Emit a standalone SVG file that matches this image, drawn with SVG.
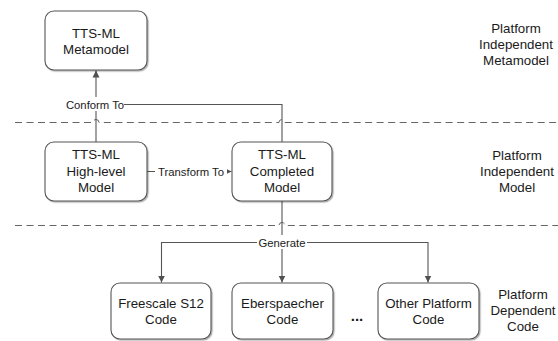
<svg xmlns="http://www.w3.org/2000/svg" width="558" height="341" viewBox="0 0 558 341">
<defs>
<marker id="ah" markerWidth="8" markerHeight="8" refX="7" refY="4" orient="auto" markerUnits="userSpaceOnUse">
<path d="M0,0.5 L7,4 L0,7.5 Z" fill="#505050"/>
</marker>
<filter id="sh" x="-10%" y="-10%" width="130%" height="130%">
<feDropShadow dx="1.2" dy="1.2" stdDeviation="0.6" flood-color="#000" flood-opacity="0.3"/>
</filter>
</defs>
<style>
.box{fill:#fff;stroke:#555;stroke-width:1.1;filter:url(#sh)}
.t{font-family:"Liberation Sans",Arial,sans-serif;font-size:13.3px;fill:#1a1a1a;text-anchor:middle}
.lbl{font-family:"Liberation Sans",Arial,sans-serif;font-size:11.3px;fill:#1a1a1a;text-anchor:middle}
.c{fill:none;stroke:#555;stroke-width:1.1}
.d{fill:none;stroke:#666;stroke-width:1;stroke-dasharray:7,4.5}
.bg{fill:#fff}
</style>
<rect width="558" height="341" fill="#fff"/>
<g id="lanes">
<path class="d" d="M15,122.5 H93 A3,3 0 0 1 99,122.5 H279 A3,3 0 0 1 285,122.5 H558"/>
<path class="d" d="M15,225.5 H279 A3,3 0 0 1 285,225.5 H558"/>
<text class="t" x="516" y="33">Platform</text>
<text class="t" x="516" y="49">Independent</text>
<text class="t" x="516" y="65">Metamodel</text>
<text class="t" x="517" y="160">Platform</text>
<text class="t" x="517" y="176">Independent</text>
<text class="t" x="517" y="192">Model</text>
<text class="t" x="523" y="299">Platform</text>
<text class="t" x="523" y="315">Dependent</text>
<text class="t" x="523" y="331">Code</text>
<text class="t" x="357" y="321" style="font-size:15px;font-weight:bold">...</text>
</g>
<g id="connectors">
<path class="c" d="M96,142 V70.5" marker-end="url(#ah)"/>
<path class="c" d="M282,142 V104.5 H96"/>
<rect class="bg" x="66" y="97" width="58" height="14"/>
<text class="lbl" x="95" y="108.5">Conform To</text>
<path class="c" d="M147,171.5 H231.5" marker-end="url(#ah)"/>
<rect class="bg" x="155" y="164" width="72" height="14"/>
<text class="lbl" x="191" y="175.5">Transform To</text>
<path class="c" d="M282,200 V242.5"/>
<path class="c" d="M282,242.5 H161.5 V282.5" marker-end="url(#ah)"/>
<path class="c" d="M282,242.5 V282.5" marker-end="url(#ah)"/>
<path class="c" d="M282,242.5 H428 V282.5" marker-end="url(#ah)"/>
<rect class="bg" x="257" y="235" width="50" height="14"/>
<text class="lbl" x="282" y="246.5">Generate</text>
</g>
<g id="metamodel">
<rect class="box" x="45" y="11" width="102" height="59" rx="9"/>
<text class="t" x="96" y="38">TTS-ML</text>
<text class="t" x="96" y="54">Metamodel</text>
</g>
<g id="highlevel">
<rect class="box" x="45" y="142" width="102" height="59" rx="9"/>
<text class="t" x="96" y="159">TTS-ML</text>
<text class="t" x="96" y="176">High-level</text>
<text class="t" x="96" y="192">Model</text>
</g>
<g id="completed">
<rect class="box" x="232" y="142" width="100" height="59" rx="9"/>
<text class="t" x="282" y="159">TTS-ML</text>
<text class="t" x="282" y="176">Completed</text>
<text class="t" x="282" y="192">Model</text>
</g>
<g id="freescale">
<rect class="box" x="111" y="283" width="100" height="56" rx="9"/>
<text class="t" x="161" y="308">Freescale S12</text>
<text class="t" x="161" y="324">Code</text>
</g>
<g id="eberspaecher">
<rect class="box" x="232" y="283" width="101" height="56" rx="9"/>
<text class="t" x="282.5" y="308">Eberspaecher</text>
<text class="t" x="282.5" y="324">Code</text>
</g>
<g id="other">
<rect class="box" x="378" y="283" width="101" height="56" rx="9"/>
<text class="t" x="428.5" y="308">Other Platform</text>
<text class="t" x="428.5" y="324">Code</text>
</g>
</svg>
